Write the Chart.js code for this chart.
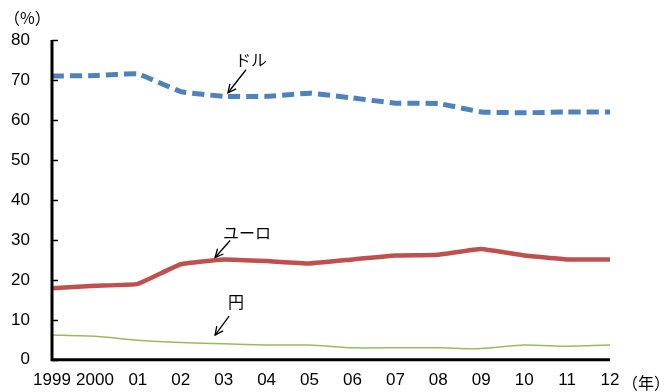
<!DOCTYPE html>
<html>
<head>
<meta charset="utf-8">
<script src="https://cdn.jsdelivr.net/npm/chart.js@4"></script>
<style>
  html, body { margin: 0; padding: 0; background: #fff; }
  #wrap { width: 665px; height: 392px; position: relative; }
</style>
</head>
<body>
<div id="wrap"><canvas id="chart"></canvas></div>
<script>
const years = ["1999", "2000", "01", "02", "03", "04", "05", "06", "07", "08", "09", "10", "11", "12"];
const dollar = [71.0, 71.1, 71.5, 67.1, 65.9, 65.9, 66.7, 65.5, 64.2, 64.1, 62.0, 61.8, 62.0, 62.0];
const euro = [17.9, 18.5, 19.0, 23.9, 25.1, 24.7, 24.1, 25.1, 26.1, 26.3, 27.7, 26.1, 25.1, 25.1];
const yen = [6.2, 5.9, 4.9, 4.3, 4.0, 3.7, 3.7, 3.0, 3.0, 3.0, 2.8, 3.7, 3.4, 3.7];
const yTicks = [0, 10, 20, 30, 40, 50, 60, 70, 80];

const labelFont = "'Liberation Sans Narrow', 'Liberation Sans', sans-serif";
const jpFont = "'Noto Sans CJK JP', sans-serif";

// labels with arrows: arrow tip at (category index, value), tail and text offsets from the tip
const notes = [
  { text: "ドル", at: 4.1, value: 66.8, tx: 18, ty: -23, lx: 7, ly: -33 },
  { text: "ユーロ", at: 3.8, value: 25.6, tx: 15, ty: -17, lx: 8, ly: -25 },
  { text: "円", at: 3.8, value: 6.2, tx: 14, ty: -19, lx: 13, ly: -33 }
];

const extras = {
  id: "extras",
  afterDraw(chart) {
    const ctx = chart.ctx;
    const x = chart.scales.x, y = chart.scales.y;
    ctx.save();
    // inner tick marks on y axis
    ctx.strokeStyle = "#000";
    ctx.lineWidth = 1.5;
    yTicks.forEach(v => {
      const py = Math.round(y.getPixelForValue(v)) + 0.5;
      ctx.beginPath();
      ctx.moveTo(x.left, py);
      ctx.lineTo(x.left + 6, py);
      ctx.stroke();
    });
    // axis lines
    ctx.lineWidth = 3;
    ctx.beginPath();
    ctx.moveTo(x.left, y.top);
    ctx.lineTo(x.left, y.bottom);
    ctx.lineTo(x.right, y.bottom);
    ctx.stroke();

    // units
    ctx.fillStyle = "#000";
    ctx.font = "16px " + jpFont;
    ctx.textBaseline = "middle";
    ctx.textAlign = "left";
    ctx.fillText("（%）", 4, 18);
    ctx.fillText("（年）", 622, 383);

    // annotations
    ctx.lineWidth = 1.3;
    notes.forEach(n => {
      const px = x.getPixelForValue(0) + (x.getPixelForValue(1) - x.getPixelForValue(0)) * n.at;
      const py = y.getPixelForValue(n.value);
      const sx = px + n.tx, sy = py + n.ty;
      ctx.beginPath();
      ctx.moveTo(sx, sy);
      ctx.lineTo(px, py);
      ctx.stroke();
      const a = Math.atan2(py - sy, px - sx);
      ctx.beginPath();
      ctx.moveTo(px - 9 * Math.cos(a - 0.45), py - 9 * Math.sin(a - 0.45));
      ctx.lineTo(px, py);
      ctx.lineTo(px - 9 * Math.cos(a + 0.45), py - 9 * Math.sin(a + 0.45));
      ctx.stroke();
      ctx.fillText(n.text, px + n.lx, py + n.ly);
    });
    ctx.restore();
  }
};

new Chart(document.getElementById("chart"), {
  type: "line",
  data: {
    labels: years,
    datasets: [
      { label: "ドル", data: dollar, borderColor: "#4F81BD", borderWidth: 5, borderDash: [12, 6], pointRadius: 0, tension: 0.1 },
      { label: "ユーロ", data: euro, borderColor: "#C0504D", borderWidth: 4.5, pointRadius: 0, tension: 0.1 },
      { label: "円", data: yen, borderColor: "#9BBB59", borderWidth: 1.5, pointRadius: 0, tension: 0.2 }
    ]
  },
  options: {
    responsive: true,
    maintainAspectRatio: false,
    animation: false,
    layout: { padding: { top: 40, right: 55, bottom: 0, left: 0 } },
    plugins: { legend: { display: false }, tooltip: { enabled: false } },
    scales: {
      x: {
        offset: false,
        afterFit: scale => { scale.height = 28; },
        grid: { display: false, drawTicks: false },
        border: { display: false },
        ticks: { color: "#000", font: { family: labelFont, size: 17 }, padding: 10, maxRotation: 0, autoSkip: false }
      },
      y: {
        min: 0,
        max: 80,
        afterBuildTicks: scale => { scale.ticks = yTicks.map(v => ({ value: v })); },
        afterFit: scale => { scale.width = 52; },
        grid: { display: false, drawTicks: false },
        border: { display: false },
        ticks: { color: "#000", font: { family: labelFont, size: 17 }, padding: 22 }
      }
    }
  },
  plugins: [extras]
});
</script>
</body>
</html>
